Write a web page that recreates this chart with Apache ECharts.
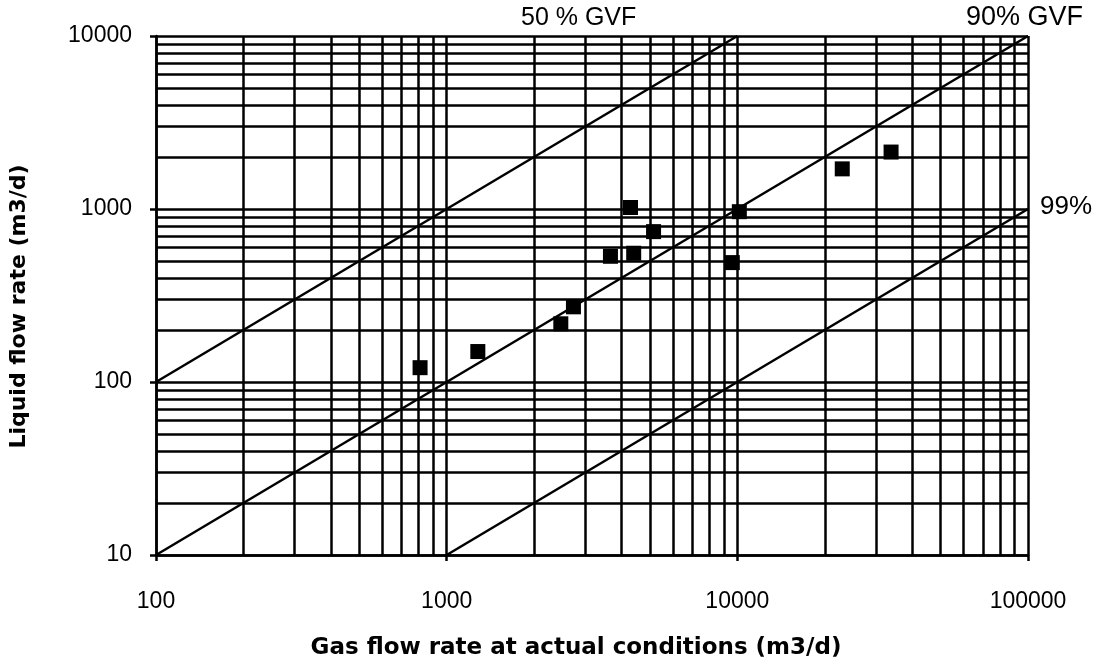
<!DOCTYPE html>
<html>
<head>
<meta charset="utf-8">
<title>Liquid vs gas flow rate</title>
<script src="https://cdn.jsdelivr.net/npm/echarts@6/dist/echarts.min.js"></script>
<style>
  html, body { margin: 0; padding: 0; background: #fff; }
  #chart { width: 1097px; height: 665px; }
</style>
</head>
<body>
<div id="chart"></div>
<script>
// Measured points: gas rate at actual conditions vs liquid rate (m3/d)
const gasRate    = [810, 1280, 2470, 2730, 3660, 4400, 4290, 5150, 9610, 10160, 22960, 33800];
const liquidRate = [121, 150, 217, 272, 533, 555, 1020, 740, 490, 965, 1706, 2134];

// Constant gas-volume-fraction reference lines (end points, m3/d)
const gvf50 = [[100, 100], [10000, 10000]];
const gvf90 = [[100, 10], [100000, 10000]];
const gvf99 = [[1000, 10], [100000, 1000]];

// Axis ranges (decades)
const xDecades = [100, 1000, 10000, 100000];
const yDecades = [10, 100, 1000, 10000];

// Log-grid line positions: 1..9 times each decade
function logGrid(decades) {
  const out = [];
  for (let i = 0; i < decades.length; i++) {
    const d = decades[i];
    out.push(d);
    if (i < decades.length - 1) {
      for (let m = 2; m <= 9; m++) out.push(d * m);
    }
  }
  return out;
}
const xGrid = logGrid(xDecades);
const yGrid = logGrid(yDecades);

const FONT = '"Liberation Sans", Arial, sans-serif';
const TITLE_FONT = '"DejaVu Sans", sans-serif';
const ink = '#000';

const chart = echarts.init(document.getElementById('chart'), null, { renderer: 'canvas' });

const gridLines = []
  .concat(xGrid.map(v => ({ xAxis: v })))
  .concat(yGrid.map(v => ({ yAxis: v })));

const plain = v => String(Math.round(v));

chart.setOption({
  animation: false,
  backgroundColor: '#fff',
  grid: { left: 154, right: 69, top: 36, bottom: 106, containLabel: false },
  xAxis: {
    type: 'log',
    logBase: 10,
    min: xDecades[0],
    max: xDecades[xDecades.length - 1],
    name: 'Gas flow rate at actual conditions (m3/d)',
    nameLocation: 'middle',
    nameGap: 82,
    nameTextStyle: { fontFamily: TITLE_FONT, fontWeight: 'bold', fontSize: 23, color: ink, padding: [0, 32, 0, 0] },
    axisLine: { show: true, lineStyle: { color: ink, width: 2.5 } },
    axisTick: { show: true, length: 6, lineStyle: { color: ink, width: 2.5 } },
    axisLabel: { fontFamily: FONT, fontSize: 23, color: ink, margin: 35, formatter: plain },
    splitLine: { show: false }
  },
  yAxis: {
    type: 'log',
    logBase: 10,
    min: yDecades[0],
    max: yDecades[yDecades.length - 1],
    name: 'Liquid flow rate (m3/d)',
    nameLocation: 'middle',
    nameGap: 126,
    nameTextStyle: { fontFamily: TITLE_FONT, fontWeight: 'bold', fontSize: 22, color: ink, padding: [0, 22, 0, 0] },
    axisLine: { show: true, lineStyle: { color: ink, width: 2.5 } },
    axisTick: { show: true, length: 6, lineStyle: { color: ink, width: 2.5 } },
    axisLabel: { fontFamily: FONT, fontSize: 23, color: ink, margin: 24, formatter: plain },
    splitLine: { show: false }
  },
  series: [
    {
      name: 'grid',
      type: 'line',
      data: [],
      silent: true,
      markLine: {
        silent: true,
        symbol: 'none',
        label: { show: false },
        lineStyle: { color: ink, width: 2.5, type: 'solid', opacity: 1 },
        emphasis: { disabled: true },
        data: gridLines
      }
    },
    {
      name: '50 % GVF',
      type: 'line',
      data: gvf50,
      symbol: 'none',
      lineStyle: { color: ink, width: 2.5 },
      silent: true
    },
    {
      name: '90% GVF',
      type: 'line',
      data: gvf90,
      symbol: 'none',
      lineStyle: { color: ink, width: 2.5 },
      silent: true
    },
    {
      name: '99%',
      type: 'line',
      data: gvf99,
      symbol: 'none',
      lineStyle: { color: ink, width: 2.5 },
      silent: true
    },
    {
      name: 'measured',
      type: 'scatter',
      data: gasRate.map((g, i) => [g, liquidRate[i]]),
      symbol: 'rect',
      symbolSize: 15,
      itemStyle: { color: ink, opacity: 1 },
      z: 5
    }
  ],
  graphic: [
    { type: 'text', left: 521, top: 6, style: { text: '50 % GVF', font: '25px ' + FONT, fill: ink } },
    { type: 'text', left: 966, top: 4, style: { text: '90% GVF', font: '27px ' + FONT, fill: ink } },
    { type: 'text', left: 1040, top: 194, style: { text: '99%', font: '26px ' + FONT, fill: ink } }
  ]
});
</script>
</body>
</html>
